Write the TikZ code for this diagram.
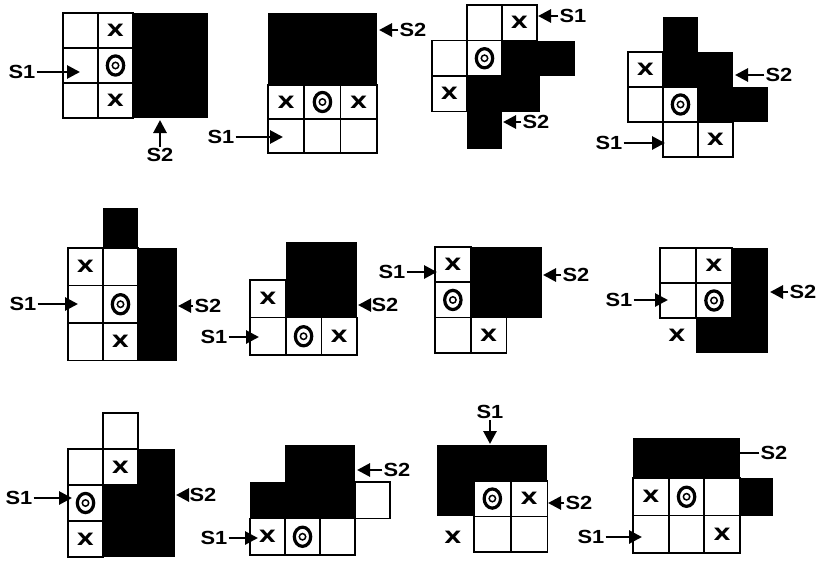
\documentclass[tikz,border=0pt]{standalone}
\usepackage{fontspec}
\setmainfont{Liberation Sans}
\newfontfamily\djv{DejaVu Sans}
\usetikzlibrary{arrows.meta}
\tikzset{
  wcell/.style={draw=black,line width=1.7pt,fill=white},
  blk/.style={fill=black},
  lab/.style={font=\bfseries\fontsize{19}{19}\selectfont,inner sep=1pt},
  xsym/.style={font=\djv\bfseries\fontsize{17}{17}\selectfont,inner sep=0pt},
  arr/.style={line width=2.8pt,-{Triangle[length=13pt,width=13pt]}},
  plainline/.style={line width=2.6pt},
  ring/.style={line width=3.2pt},
  dotc/.style={line width=1.5pt},
}
\def\pcw{35}\def\pch{35}
\newcommand\xx{\scalebox{1.3}[1]{X}}
\newcommand\labtxt[1]{\scalebox{1.15}[1]{#1}}
\newcommand\wc[2]{\draw[wcell] (#1,#2) rectangle ++(\pcw,\pch);}
\newcommand\xc[3]{\wc{#2}{#3}\node[xsym] (#1) at ({#2+\pcw/2},{#3+\pch/2}) {\xx};}
\newcommand\oc[3]{\wc{#2}{#3}\coordinate (#1) at ({#2+\pcw/2},{#3+\pch/2});
  \draw[ring] (#1) ellipse[x radius=8.2pt,y radius=9.6pt]; \draw[dotc] (#1) circle[radius=3.2pt];}
\begin{document}
\begin{tikzpicture}[x=1pt,y=-1pt]
\useasboundingbox[fill=white] (0,0) rectangle (819,562);

% ---------- Panel 1
\def\pcw{35}\def\pch{35}
\fill[blk] (133,13) rectangle (208,118);
\wc{63}{13}\wc{63}{48}\wc{63}{83}
\xc{p1x1}{98}{13}\oc{p1o}{98}{48}\xc{p1x2}{98}{83}
\node[lab] (l1a) at (22,72) {\labtxt{S1}};
\coordinate (t1a) at (80,72);
\draw[arr] (l1a.east) -- (t1a);
\node[lab] (l1b) at (160,155) {\labtxt{S2}};
\coordinate (t1b) at (160,120);
\draw[arr] (l1b.north) -- (t1b);

% ---------- Panel 2
\def\pcw{36.3}\def\pch{34}
\fill[blk] (268,13) rectangle (377,85);
\xc{p2x1}{268}{85}\oc{p2o}{304.3}{85}\xc{p2x2}{340.6}{85}
\wc{268}{119}\wc{304.3}{119}\wc{340.6}{119}
\node[lab] (l2a) at (221,137) {\labtxt{S1}};
\coordinate (t2a) at (283,137);
\draw[arr] (l2a.east) -- (t2a);
\node[lab] (l2b) at (413,30) {\labtxt{S2}};
\coordinate (t2b) at (379,30);
\draw[arr] (l2b.west) -- (t2b);

% ---------- Panel 3
\def\pcw{35}\def\pch{35.5}
\fill[blk] (502,40.5) rectangle (575,76);
\fill[blk] (467,76) rectangle (540,111.5);
\fill[blk] (467,111.5) rectangle (502,149);
\wc{467}{5}\xc{p3x1}{502}{5}
\wc{432}{40.5}\oc{p3o}{467}{40.5}
\xc{p3x2}{432}{76}
\node[lab] (l3a) at (573,16) {\labtxt{S1}};
\coordinate (t3a) at (538,16);
\draw[arr] (l3a.west) -- (t3a);
\node[lab] (l3b) at (536,122) {\labtxt{S2}};
\coordinate (t3b) at (503,122);
\draw[arr] (l3b.west) -- (t3b);

% ---------- Panel 4
\def\pcw{35}\def\pch{35}
\fill[blk] (663,17) rectangle (698,52);
\fill[blk] (663,52) rectangle (733,87);
\fill[blk] (698,87) rectangle (768,122);
\xc{p4x1}{628}{52}
\wc{628}{87}\oc{p4o}{663}{87}
\wc{663}{122}\xc{p4x2}{698}{122}
\node[lab] (l4a) at (609,143) {\labtxt{S1}};
\coordinate (t4a) at (665,143);
\draw[arr] (l4a.east) -- (t4a);
\node[lab] (l4b) at (779,75) {\labtxt{S2}};
\coordinate (t4b) at (735,75);
\draw[arr] (l4b.west) -- (t4b);

% ---------- Panel 5
\def\pcw{35}\def\pch{37.5}
\fill[blk] (103,208) rectangle (138,248);
\fill[blk] (138,248) rectangle (177,360.5);
\xc{p5x1}{68}{248}\wc{103}{248}
\wc{68}{285.5}\oc{p5o}{103}{285.5}
\wc{68}{323}\xc{p5x2}{103}{323}
\node[lab] (l5a) at (23,304) {\labtxt{S1}};
\coordinate (t5a) at (78,304);
\draw[arr] (l5a.east) -- (t5a);
\node[lab] (l5b) at (208,306) {\labtxt{S2}};
\coordinate (t5b) at (178,306);
\draw[arr] (l5b.west) -- (t5b);

% ---------- Panel 6
\def\pcw{35.7}\def\pch{37.7}
\fill[blk] (285.7,242) rectangle (357,317.4);
\xc{p6x1}{250}{279.7}
\wc{250}{317.4}\oc{p6o}{285.7}{317.4}\xc{p6x2}{321.4}{317.4}
\node[lab] (l6a) at (214,337) {\labtxt{S1}};
\coordinate (t6a) at (259,337);
\draw[arr] (l6a.east) -- (t6a);
\node[lab] (l6b) at (385,305) {\labtxt{S2}};
\coordinate (t6b) at (358,305);
\draw[arr] (l6b.west) -- (t6b);

% ---------- Panel 7
\def\pcw{35.7}\def\pch{35.3}
\fill[blk] (470.7,247) rectangle (542,317.6);
\xc{p7x1}{435}{247}
\oc{p7o}{435}{282.3}
\wc{435}{317.6}\xc{p7x2}{470.7}{317.6}
\node[lab] (l7a) at (392,272) {\labtxt{S1}};
\coordinate (t7a) at (437,272);
\draw[arr] (l7a.east) -- (t7a);
\node[lab] (l7b) at (576,275) {\labtxt{S2}};
\coordinate (t7b) at (543,275);
\draw[arr] (l7b.west) -- (t7b);

% ---------- Panel 8
\def\pcw{36}\def\pch{35}
\fill[blk] (732,248) rectangle (768,353);
\fill[blk] (696,318) rectangle (768,353);
\wc{660}{248}\xc{p8x1}{696}{248}
\wc{660}{283}\oc{p8o}{696}{283}
\node[xsym] (p8x2) at (677,335) {\xx};
\node[lab] (l8a) at (619,300) {\labtxt{S1}};
\coordinate (t8a) at (668,300);
\draw[arr] (l8a.east) -- (t8a);
\node[lab] (l8b) at (803,292) {\labtxt{S2}};
\coordinate (t8b) at (770,292);
\draw[arr] (l8b.west) -- (t8b);

% ---------- Panel 9
\def\pcw{35}\def\pch{36}
\fill[blk] (138,449) rectangle (175,557);
\fill[blk] (103,485) rectangle (175,557);
\wc{103}{413}
\wc{68}{449}\xc{p9x1}{103}{449}
\oc{p9o}{68}{485}
\xc{p9x2}{68}{521}
\node[lab] (l9a) at (19,498) {\labtxt{S1}};
\coordinate (t9a) at (72,498);
\draw[arr] (l9a.east) -- (t9a);
\node[lab] (l9b) at (203,495) {\labtxt{S2}};
\coordinate (t9b) at (176,495);
\draw[arr] (l9b.west) -- (t9b);

% ---------- Panel 10
\def\pcw{35}\def\pch{36.7}
\fill[blk] (285,445) rectangle (355,518.4);
\fill[blk] (250,481.7) rectangle (285,518.4);
\wc{355}{481.7}
\xc{p10x1}{250}{518.4}\oc{p10o}{285}{518.4}\wc{320}{518.4}
\node[lab] (l10a) at (214,538) {\labtxt{S1}};
\coordinate (t10a) at (258,538);
\draw[arr] (l10a.east) -- (t10a);
\node[lab] (l10b) at (397,470) {\labtxt{S2}};
\coordinate (t10b) at (357,470);
\draw[arr] (l10b.west) -- (t10b);

% ---------- Panel 11
\def\pcw{36.7}\def\pch{35.7}
\fill[blk] (437,445) rectangle (547,480.7);
\fill[blk] (437,480.7) rectangle (474,516.4);
\oc{p11o}{474}{480.7}\xc{p11x1}{510.7}{480.7}
\wc{474}{516.4}\wc{510.7}{516.4}
\node[xsym] (p11x2) at (453,537) {\xx};
\node[lab] (l11a) at (490,412) {\labtxt{S1}};
\coordinate (t11a) at (490,444);
\draw[arr] (l11a.south) -- (t11a);
\node[lab] (l11b) at (579,503) {\labtxt{S2}};
\coordinate (t11b) at (548,503);
\draw[arr] (l11b.west) -- (t11b);

% ---------- Panel 12
\def\pcw{35.7}\def\pch{37.5}
\fill[blk] (633,438) rectangle (740,478);
\fill[blk] (740,478) rectangle (773,515.5);
\xc{p12x1}{633}{478}\oc{p12o}{668.7}{478}\wc{704.3}{478}
\wc{633}{515.5}\wc{668.7}{515.5}\xc{p12x2}{704.3}{515.5}
\node[lab] (l12a) at (591,537) {\labtxt{S1}};
\coordinate (t12a) at (642,537);
\draw[arr] (l12a.east) -- (t12a);
\node[lab] (l12b) at (774,453) {\labtxt{S2}};
\coordinate (t12b) at (740,453);
\draw[plainline] (l12b.west) -- (t12b);
\end{tikzpicture}
\end{document}
